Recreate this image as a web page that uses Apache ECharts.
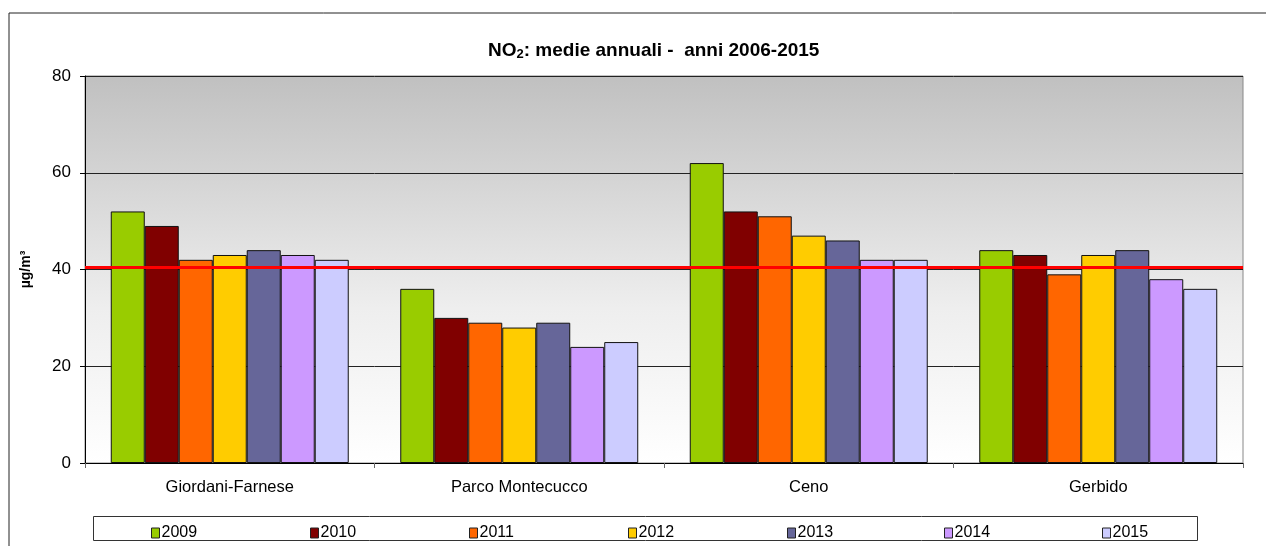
<!DOCTYPE html>
<html>
<head>
<meta charset="utf-8">
<script src="https://cdn.jsdelivr.net/npm/echarts@6/dist/echarts.min.js"></script>
<style>html,body{margin:0;padding:0;background:#fff}#c{width:1266px;height:546px}</style>
</head>
<body>
<div id="c"></div>
<script>
const categories = ['Giordani-Farnese', 'Parco Montecucco', 'Ceno', 'Gerbido'];
const years = ['2009', '2010', '2011', '2012', '2013', '2014', '2015'];
const s2009 = [52, 36, 62, 44];
const s2010 = [49, 30, 52, 43];
const s2011 = [42, 29, 51, 39];
const s2012 = [43, 28, 47, 43];
const s2013 = [44, 29, 46, 44];
const s2014 = [43, 24, 42, 38];
const s2015 = [42, 25, 42, 36];
const limitValue = 40.5;
const yTicks = [0, 20, 40, 60, 80];

const seriesData = [s2009, s2010, s2011, s2012, s2013, s2014, s2015];
const colors = ['#99cc00', '#800000', '#ff6600', '#ffcc00', '#666699', '#cc99ff', '#ccccff'];
const legendLeft = [146, 305, 464, 623, 782, 939, 1097];
const font = '"Liberation Sans", Arial, sans-serif';

const chart = echarts.init(document.getElementById('c'));
const series = years.map((y, i) => ({
  name: y,
  type: 'bar',
  data: seriesData[i],
  barGap: '0%',
  barCategoryGap: '17.8%',
  itemStyle: { color: colors[i], borderColor: '#111', borderWidth: 1 },
  animation: false
}));
series[0].markLine = {
  silent: true,
  symbol: 'none',
  label: { show: false },
  lineStyle: { color: '#ff0000', width: 3, type: 'solid' },
  data: [{ yAxis: limitValue }]
};

const legends = years.map((y, i) => ({
  data: [y],
  left: legendLeft[i], top: 520,
  itemWidth: 8, itemHeight: 10, itemGap: 0,
  icon: 'rect',
  itemStyle: { borderColor: '#222', borderWidth: 1 },
  textStyle: { fontFamily: font, fontSize: 16, color: '#000', padding: [0, 0, 0, -3] },
  selectedMode: false
}));

chart.setOption({
  animation: false,
  color: colors,
  textStyle: { fontFamily: font },
  title: {
    text: '{b|NO}{s|2}{b|: medie annuali -  anni 2006-2015}',
    left: 483, top: 36,
    textStyle: {
      rich: {
        b: { fontFamily: font, fontWeight: 'bold', fontSize: 19, color: '#000' },
        s: { fontFamily: font, fontWeight: 'bold', fontSize: 13, color: '#000', padding: [7, 0, 0, 0] }
      }
    }
  },
  graphic: [
    { type: 'rect', shape: { x: 9, y: 13, width: 1400, height: 700 }, style: { fill: 'none', stroke: '#222', lineWidth: 1 }, silent: true, z: -10 },
    { type: 'rect', shape: { x: 93.5, y: 516.5, width: 1104, height: 24 }, style: { fill: '#fff', stroke: '#333', lineWidth: 1 }, silent: true, z: -5 }
  ],
  legend: legends,
  grid: {
    left: 85, right: 1266 - 1243, top: 76, bottom: 546 - 463,
    show: true,
    borderColor: '#888',
    borderWidth: 1,
    backgroundColor: {
      type: 'linear', x: 0, y: 0, x2: 0, y2: 1,
      colorStops: [{ offset: 0, color: '#c0c0c0' }, { offset: 0.6, color: '#eeeeee' }, { offset: 1, color: '#ffffff' }]
    }
  },
  xAxis: {
    type: 'category',
    data: categories,
    axisLine: { lineStyle: { color: '#000', width: 1 } },
    axisTick: { show: true, length: 5, lineStyle: { color: '#666' } },
    axisLabel: { fontFamily: font, fontSize: 16.5, color: '#000', margin: 16 }
  },
  yAxis: {
    type: 'value',
    min: yTicks[0], max: yTicks[yTicks.length - 1], interval: 20,
    name: 'µg/m³',
    nameLocation: 'middle',
    nameGap: 52,
    nameRotate: 90,
    nameTextStyle: { fontFamily: font, fontWeight: 'bold', fontSize: 14, color: '#000' },
    axisLine: { show: true, lineStyle: { color: '#000', width: 1 } },
    axisTick: { show: true, length: 5, lineStyle: { color: '#000' } },
    axisLabel: { fontFamily: font, fontSize: 17, color: '#000', margin: 14 },
    splitLine: { show: true, lineStyle: { color: '#222', width: 1 } }
  },
  series: series
});
</script>
</body>
</html>
